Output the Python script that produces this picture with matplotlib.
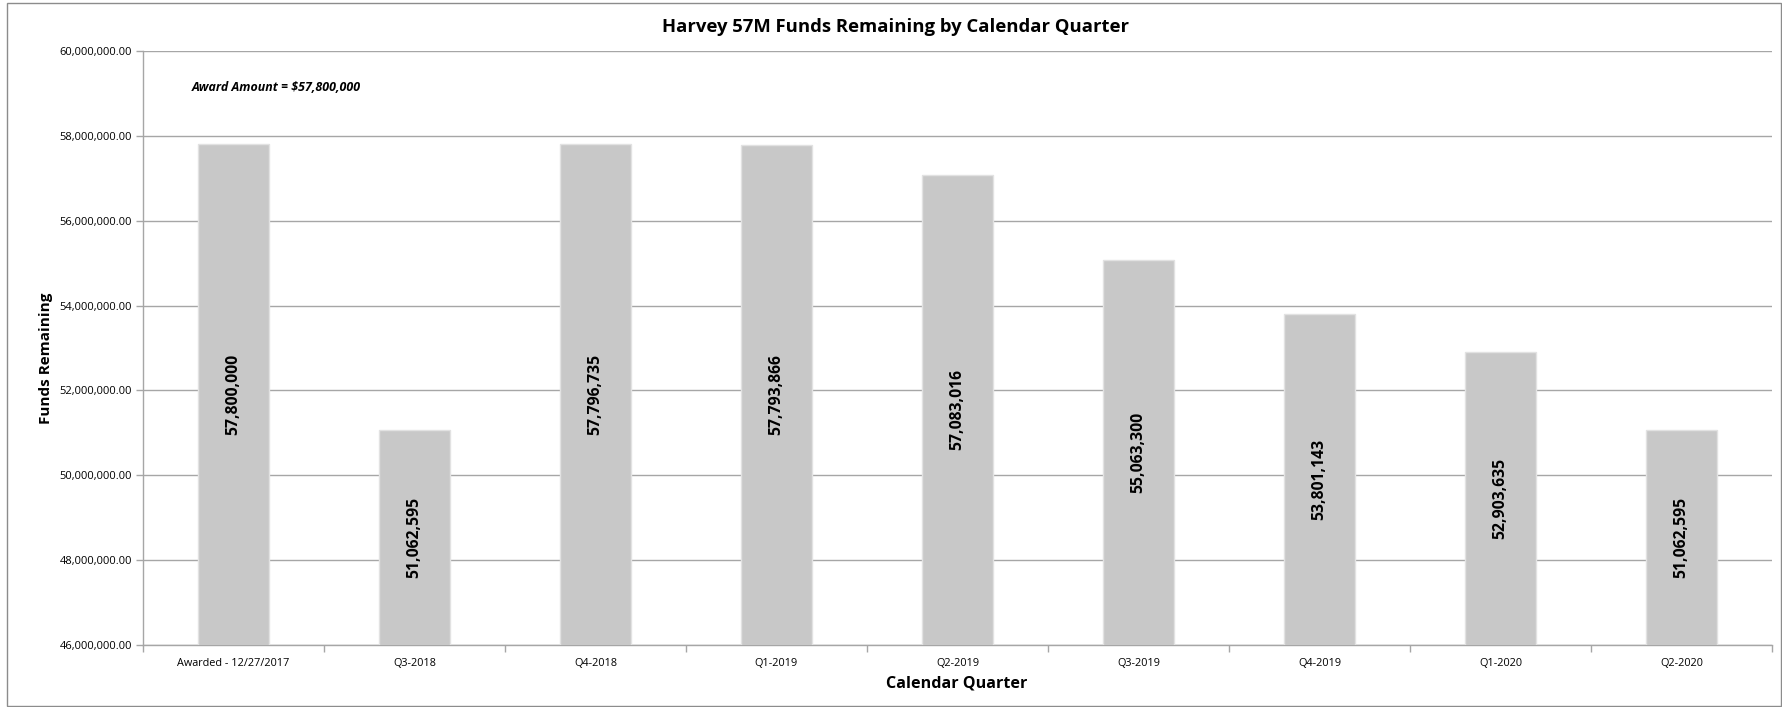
import matplotlib
matplotlib.use("Agg")
import matplotlib.pyplot as plt
from matplotlib.patches import Rectangle
from matplotlib.ticker import FuncFormatter, MultipleLocator
import numpy as np

categories = ["Awarded - 12/27/2017", "Q3-2018", "Q4-2018", "Q1-2019", "Q2-2019",
              "Q3-2019", "Q4-2019", "Q1-2020", "Q2-2020"]
funds_remaining = [57800000, 51062595, 57796735, 57793866, 57083016,
                   55063300, 53801143, 52903635, 51062595]
title = "Harvey 57M Funds Remaining by Calendar Quarter"
award_note = "Award Amount = $57,800,000"
y_min, y_max, y_step = 46000000, 60000000, 2000000

plt.rcParams['font.family'] = ['Open Sans', 'DejaVu Sans']

W, H = 1783, 707
fig = plt.figure(figsize=(W / 100, H / 100), dpi=100)
fig.patch.set_facecolor("white")

ax = fig.add_axes([143 / W, 1 - 645 / H, (1772 - 143) / W, (645 - 51) / H])

x = np.arange(len(categories))
ax.bar(x, funds_remaining, width=0.39, color="#C8C8C8", edgecolor="#E2E2E2",
       linewidth=1, zorder=3)

ax.set_xlim(-0.5, len(categories) - 0.5)
ax.set_ylim(y_min, y_max)
ax.yaxis.set_major_locator(MultipleLocator(y_step))
ax.yaxis.set_major_formatter(FuncFormatter(lambda v, p: f"{v:,.2f}"))
ax.grid(axis="y", color="#A6A6A6", linewidth=1, zorder=0)
ax.set_axisbelow(True)

ax.set_xticks(x)
ax.set_xticklabels(categories, fontsize=7.8)
ax.set_xticks(np.arange(-0.5, len(categories), 1), minor=True)
ax.tick_params(axis="x", which="major", length=0, pad=9, colors="black")
ax.tick_params(axis="x", which="minor", length=5, color="#A6A6A6", width=1)
ax.tick_params(axis="y", length=5, color="#A6A6A6", width=1, labelsize=8, pad=3)

for s in ["top", "right"]:
    ax.spines[s].set_visible(False)
for s in ["left", "bottom"]:
    ax.spines[s].set_color("#A6A6A6")
    ax.spines[s].set_linewidth(1)

for xi, v in zip(x, funds_remaining):
    ax.text(xi, (y_min + v) / 2, f"{v:,.0f}", rotation=90, ha="center", va="center",
            fontsize=11.3, fontweight="bold", color="black", zorder=4)

ax.text(0.030, 59150000, award_note, transform=ax.get_yaxis_transform(),
        fontsize=8.9, fontweight="bold", fontstyle="italic", va="center", ha="left")

fig.text(896 / W, 1 - 27 / H, title, ha="center", va="center",
         fontsize=13.3, fontweight="bold")
fig.text(46 / W, 1 - 358 / H, "Funds Remaining", rotation=90, ha="center", va="center",
         fontsize=11, fontweight="bold")
fig.text(957 / W, 1 - 683 / H, "Calendar Quarter", ha="center", va="center",
         fontsize=11.6, fontweight="bold")

fig.patches.append(Rectangle((7 / W, 1 / H), (1781 - 7) / W, (704 - 1) / H,
                             transform=fig.transFigure, fill=False,
                             edgecolor="#8C8C8C", linewidth=1))

fig.savefig("out.png", dpi=100)
